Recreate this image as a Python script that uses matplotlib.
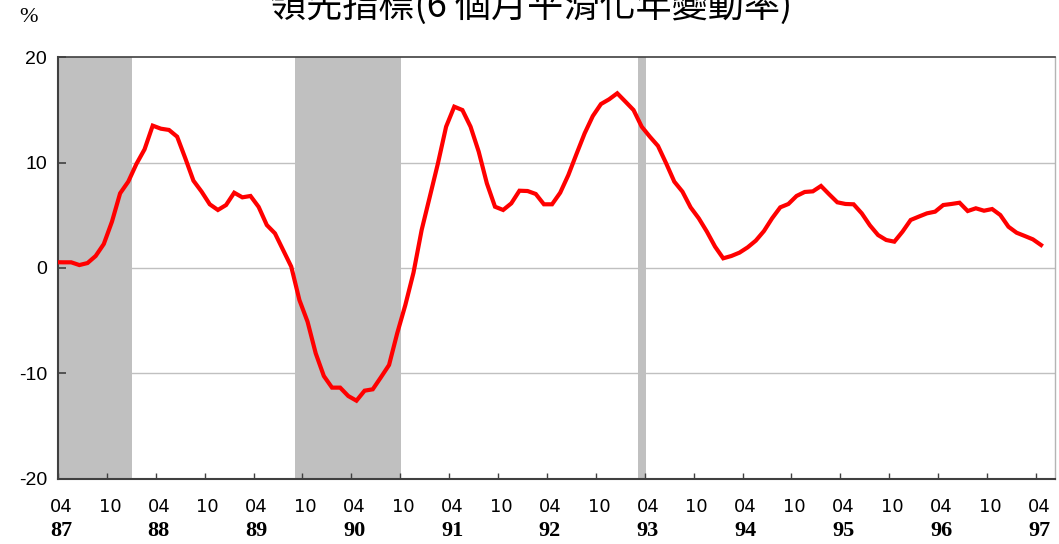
import matplotlib.pyplot as plt
import matplotlib.transforms as mtransforms
import numpy as np

# monthly values, Apr 87 .. May 97 (%)
values = [
    0.55, 0.54, 0.54, 0.28, 0.47, 1.14, 2.28, 4.40, 7.09, 8.20,
    9.88, 11.27, 13.52, 13.23, 13.11, 12.47, 10.42, 8.29, 7.25, 6.05,
    5.51, 5.98, 7.15, 6.71, 6.84, 5.80, 4.08, 3.29, 1.71, 0.13,
    -3.04, -5.10, -8.10, -10.26, -11.36, -11.36, -12.16, -12.60, -11.65, -11.52,
    -10.38, -9.21, -6.20, -3.51, -0.44, 3.61, 6.77, 9.94, 13.42, 15.32,
    15.00, 13.42, 11.05, 8.04, 5.82, 5.51, 6.14, 7.34, 7.31, 7.03,
    6.05, 6.05, 7.15, 8.83, 10.83, 12.79, 14.43, 15.57, 16.02, 16.59,
    15.80, 15.00, 13.42, 12.47, 11.59, 9.94, 8.20, 7.25, 5.76, 4.72,
    3.45, 2.03, 0.92, 1.14, 1.46, 1.96, 2.60, 3.51, 4.72, 5.76,
    6.08, 6.84, 7.22, 7.28, 7.79, 7.00, 6.24, 6.08, 6.05, 5.19,
    4.05, 3.13, 2.66, 2.50, 3.45, 4.56, 4.88, 5.19, 5.35, 5.98,
    6.08, 6.20, 5.41, 5.67, 5.44, 5.60, 5.03, 3.92, 3.35, 3.04,
    2.72, 2.18,
]
# shaded (contraction) months as index ranges, inclusive
shade_ranges = [(0, 9), (30, 42), (72, 72)]
month_labels = ["04", "10"] * 10 + ["04"]
year_labels = ["87", "88", "89", "90", "91", "92", "93", "94", "95", "96", "97"]
title = "領先指標(6 個月平滑化年變動率)"

x = np.arange(len(values))

fig = plt.figure(figsize=(10.59, 5.44), dpi=100)
W, H = 1059, 544
left, right, top, bottom = 58, 1054.5, 57.4, 478.6
ax = fig.add_axes([left / W, 1 - bottom / H, (right - left) / W, (bottom - top) / H])

for a, b in shade_ranges:
    ax.axvspan(a - 0.5, b + 0.5, color="#c0c0c0", lw=0, zorder=1)

for yv in (-10, 0, 10):
    ax.axhline(yv, color="#c0c0c0", lw=1, zorder=0.5)

ax.plot(x, values, color="#ff0000", lw=3, zorder=3, solid_joinstyle="miter")

ax.set_xlim(0.38, 122.65)
ax.set_ylim(-20, 20)
ax.set_yticks([-20, -10, 0, 10, 20])
ax.set_yticklabels(["-20", "-10", "0", "10", "20"], family="Liberation Sans", fontsize=14)
ax.tick_params(axis="y", direction="in", length=6, width=1.2, color="#404040", pad=8)

tick_pos = np.arange(0, 121, 6) + 0.38
ax.set_xticks(tick_pos)
ax.set_xticklabels(month_labels, family="DejaVu Sans", fontsize=13)
ax.tick_params(axis="x", direction="in", length=4, width=1, color="#404040", pad=14)
shift = mtransforms.ScaledTranslation(3 / 100, 0, fig.dpi_scale_trans)
for lbl in ax.get_xticklabels():
    lbl.set_transform(lbl.get_transform() + shift)

trans = mtransforms.blended_transform_factory(ax.transData, ax.transAxes)
for k, yr in enumerate(year_labels):
    ax.text(k * 12 + 0.38, -0.1, yr, transform=trans + shift, ha="center", va="top",
            family="Liberation Serif", fontweight="bold", fontsize=16)

for s in ("left", "bottom"):
    ax.spines[s].set_color("#404040")
    ax.spines[s].set_linewidth(1.5)
ax.spines["top"].set_color("#404040")
ax.spines["top"].set_linewidth(1.2)
ax.spines["right"].set_color("#b4b4b4")
ax.spines["right"].set_linewidth(1)

fig.text(531 / W, 1 - 17 / H, title, ha="center", va="baseline",
         family=["Noto Sans CJK TC", "DejaVu Sans"], fontsize=26)
fig.text(28 / W, 1 - 18 / H, "%", ha="center", va="center",
         family="Liberation Serif", fontsize=16)

fig.savefig("out.png", dpi=100)
